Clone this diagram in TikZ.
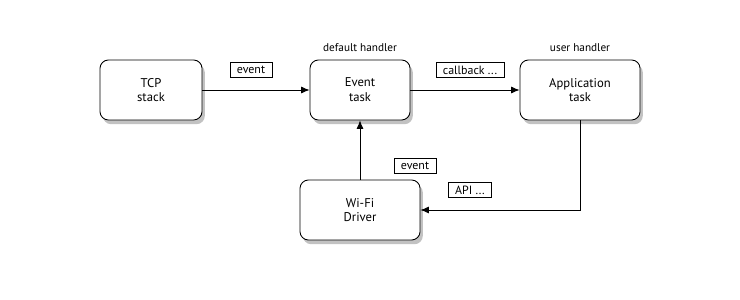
\documentclass[tikz,border=0pt]{standalone}
\usepackage{fontspec}
\setmainfont{PT Sans}
\usetikzlibrary{arrows.meta, positioning, shadows}

\begin{document}
\begin{tikzpicture}[
  x=0.025cm, y=-0.025cm,
  font=\fontsize{9}{10.5}\selectfont,
  taskbox/.style={draw=black, line width=0.6pt, fill=white,
                  rounded corners=6pt, minimum height=1.5cm,
                  align=center, inner sep=2pt,
                  drop shadow={shadow xshift=2pt, shadow yshift=-3pt,
                               fill=black!40, opacity=0.6}},
  tagbox/.style={draw=black, line width=0.5pt, fill=white,
                 inner xsep=5pt, inner ysep=2.5pt,
                 font=\fontsize{8.5}{9}\selectfont},
  headlabel/.style={font=\fontsize{8}{9}\selectfont},
  flowarrow/.style={-{Latex[length=6pt, width=5pt]}, line width=0.6pt},
]
\useasboundingbox (0,0) rectangle (740,300);

% boxes
\node[taskbox, minimum width=2.55cm] (tcp) at (151,90) {TCP\\stack};
\node[taskbox, minimum width=2.5cm] (event) at (360,90) {Event\\task};
\node[taskbox, minimum width=3.0cm] (app) at (580,90) {Application\\task};
\node[taskbox, minimum width=3.0cm] (wifi) at (360,210) {Wi-Fi\\Driver};

% headings
\node[headlabel] (defhead) at (360,48) {default handler};
\node[headlabel] (userhead) at (580,48) {user handler};

% arrows
\draw[flowarrow] (tcp) -- (event);
\draw[flowarrow] (event) -- (app);
\draw[flowarrow] (wifi) -- (event);
\draw[flowarrow] (app.south) |- (wifi.east);

% tags
\node[tagbox] (tagevent) at (251,70) {event};
\node[tagbox] (tagcallback) at (470,70) {callback ...};
\node[tagbox] (tagwifievent) at (415,166) {event};
\node[tagbox] (tagapi) at (470,190) {API ...};
\end{tikzpicture}
\end{document}
